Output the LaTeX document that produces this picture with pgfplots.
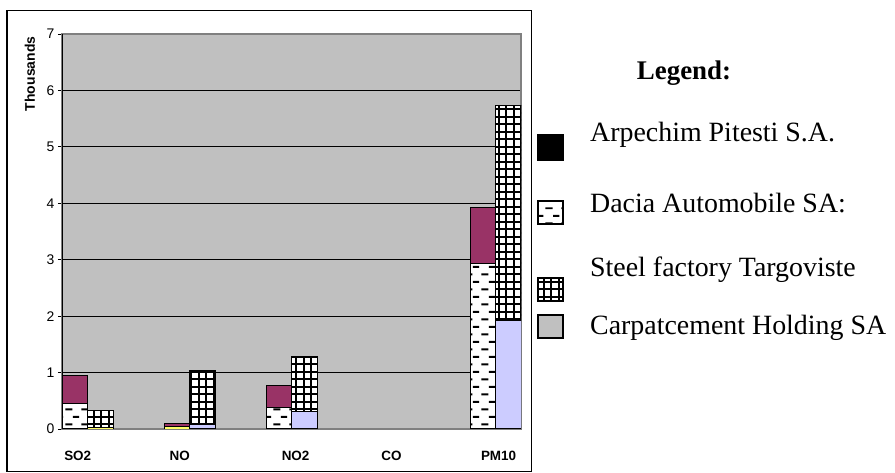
\documentclass[border=0pt]{standalone}
\usepackage{fontspec}
\setmainfont{Liberation Serif}
\newfontfamily\arial{Liberation Sans}
\usepackage{pgfplots}
\pgfplotsset{compat=1.18}
\usetikzlibrary{patterns}
\definecolor{bggray}{HTML}{C0C0C0}
\definecolor{plum}{HTML}{993366}
\definecolor{lav}{HTML}{CCCCFF}
\definecolor{yel}{HTML}{FFFF66}
\definecolor{axgray}{HTML}{808080}
\pgfdeclarepatternformonly{daciadash}{\pgfpointorigin}{\pgfpoint{16bp}{15.4bp}}{\pgfpoint{16bp}{15.4bp}}{%
  \pgfsetlinewidth{2bp}%
  \pgfpathmoveto{\pgfpoint{1.5bp}{3.85bp}}\pgfpathlineto{\pgfpoint{9bp}{3.85bp}}%
  \pgfpathmoveto{\pgfpoint{9.5bp}{11.55bp}}\pgfpathlineto{\pgfpoint{16bp}{11.55bp}}%
  \pgfusepath{stroke}}
\pgfdeclarepatternformonly{steelgrid}{\pgfpoint{-1bp}{-1bp}}{\pgfpoint{8.5bp}{8.5bp}}{\pgfpoint{7.5bp}{7.5bp}}{%
  \pgfsetlinewidth{1.9bp}%
  \pgfpathmoveto{\pgfpoint{-1bp}{3.75bp}}\pgfpathlineto{\pgfpoint{8.5bp}{3.75bp}}%
  \pgfpathmoveto{\pgfpoint{3.75bp}{-1bp}}\pgfpathlineto{\pgfpoint{3.75bp}{8.5bp}}%
  \pgfusepath{stroke}}
\pgfplotsset{common/.style={
  at={(62bp,44bp)}, anchor=south west, scale only axis,
  width=459bp, height=395bp,
  xmin=-0.25, xmax=4.25, ymin=0, ymax=7,
  ybar stacked, bar width=0.25,
}}
\begin{document}
\begin{tikzpicture}[x=1bp,y=1bp]
\useasboundingbox (0,0) rectangle (895,473);
\begin{axis}[common,
  bar shift=-0.125,
  axis background/.style={fill=bggray},
  axis line style={axgray, line width=1.3bp},
  ymajorgrids, grid style={black, line width=0.9bp},
  tick align=outside, major tick length=4bp, tick pos=left,
  ytick={0,1,...,7}, ytick style={black, line width=0.8bp},
  xtick={-0.096,0.904,2.04,2.98,4.03}, xticklabels={SO2,NO,NO2,CO,PM10},
  xtick style={draw=none},
  /pgf/number format/assume math mode=true,
  yticklabel style={font=\arial\fontsize{14}{16}\selectfont},
  xticklabel style={font=\arial\bfseries\fontsize{13.5}{15}\selectfont, anchor=center, yshift=-23bp},
  ylabel={Thousands},
  ylabel style={font=\arial\bfseries\fontsize{14}{16}\selectfont, at={(axis description cs:-0.0697,0.899)}, anchor=center},
  extra description/.code={\draw[black, line width=1bp] (axis description cs:0,0) -- (axis description cs:0,1);},
]
\addplot[fill=yel, draw=black, line width=0.8bp] coordinates {(0,0) (1,0.04) (2,0) (4,0)};
\addplot[preaction={fill=white}, pattern=daciadash, draw=black, line width=1bp] coordinates {(0,0.46) (1,0) (2,0.38) (4,2.93)};
\addplot[fill=plum, draw=black, line width=1bp] coordinates {(0,0.48) (1,0.05) (2,0.39) (4,1.00)};
\end{axis}
\begin{axis}[common, bar shift=0.125, hide axis]
\addplot[fill=yel, draw=black, line width=0.8bp] coordinates {(0,0.03) (1,0) (2,0) (4,0)};
\addplot[fill=lav, draw=black, line width=1bp] coordinates {(0,0) (1,0.08) (2,0.31) (4,1.93)};
\addplot[preaction={fill=white}, pattern=steelgrid, draw=black, line width=1bp] coordinates {(0,0.29) (1,0.95) (2,0.97) (4,3.81)};
\end{axis}
\draw[line width=1.2] (7,1.3) rectangle (531.5,462.3);
\node[font=\bfseries\fontsize{27}{32}\selectfont, anchor=base] at (684,393.5) {Legend:};
\node[font=\fontsize{28}{32}\selectfont, anchor=base west, inner sep=0] at (590,331) {Arpechim Pitesti S.A.};
\node[font=\fontsize{28}{32}\selectfont, anchor=base west, inner sep=0] at (590,260) {Dacia Automobile SA:};
\node[font=\fontsize{28}{32}\selectfont, anchor=base west, inner sep=0] at (590,196) {Steel factory Targoviste};
\node[font=\fontsize{28}{32}\selectfont, anchor=base west, inner sep=0] at (590,138) {Carpatcement Holding SA};
\draw[line width=1.2, fill=black] (538,313) rectangle (563,338);
\draw[line width=1.2, preaction={fill=white}, pattern=daciadash] (538,249) rectangle (563,272);
\draw[line width=1.2, preaction={fill=white}, pattern=steelgrid] (538,172) rectangle (563,195);
\draw[line width=1.2, fill=bggray] (538,135) rectangle (563,158);
\end{tikzpicture}
\end{document}
